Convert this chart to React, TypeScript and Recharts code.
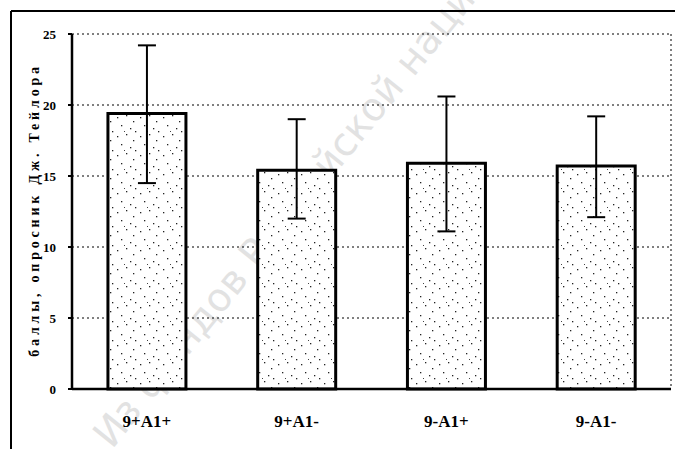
import React from 'react';
import { BarChart, Bar, XAxis, YAxis, CartesianGrid, ErrorBar } from 'recharts';

const categories = ['9+A1+', '9+A1-', '9-A1+', '9-A1-'];
const means = [19.4, 15.4, 15.9, 15.7];
const errLow = [4.9, 3.4, 4.8, 3.6];
const errHigh = [4.8, 3.6, 4.7, 3.5];
const yTicks = [0, 5, 10, 15, 20, 25];
const boundaryTicks = [1, 2, 3, 4];
const yLabel = 'баллы, опросник Дж. Тейлора';
const watermark = 'Из фондов Российской национ';

const data = categories.map((c, i) => ({
  name: c,
  value: means[i],
  err: [errLow[i], errHigh[i]],
}));

const serif = '"Liberation Serif", "DejaVu Serif", serif';

export default function App() {
  return (
    <div style={{ position: 'absolute', left: 0, top: 0, width: 675, height: 449, background: '#fff', overflow: 'hidden' }}>
      <svg width={675} height={449} style={{ position: 'absolute', left: 0, top: 0 }}>
        <text
          x={112}
          y={450}
          transform="rotate(-51 112 450)"
          fontFamily='"DejaVu Sans", sans-serif'
          fontSize={39}
          fill="#e2e2e2"
        >
          {watermark}
        </text>
      </svg>
      <div style={{ position: 'absolute', left: 0, top: 0 }}>
        <BarChart
          width={675}
          height={449}
          data={data}
          margin={{ top: 34, right: 4, left: 0, bottom: 0 }}
          barCategoryGap="24%"
        >
          <defs>
            <pattern id="dots" width="23" height="19" patternUnits="userSpaceOnUse">
              <rect width="23" height="19" fill="#fff" />
              <rect x="2" y="3" width="1.3" height="1.3" fill="#222" />
              <rect x="11" y="1" width="1.3" height="1.3" fill="#222" />
              <rect x="18" y="7" width="1.3" height="1.3" fill="#222" />
              <rect x="6" y="11" width="1.3" height="1.3" fill="#222" />
              <rect x="15" y="14" width="1.3" height="1.3" fill="#222" />
              <rect x="20" y="17" width="1.3" height="1.3" fill="#222" />
              <rect x="9" y="17" width="1" height="1" fill="#444" />
            </pattern>
          </defs>
          <CartesianGrid
            vertical={true}
            horizontal={true}
            stroke="#000"
            strokeDasharray="2 3"
            verticalPoints={[671]}
          />
          <XAxis
            xAxisId="b"
            type="number"
            domain={[0, 4]}
            ticks={boundaryTicks}
            tickFormatter={() => ''}
            axisLine={false}
            tickLine={{ stroke: '#000', strokeWidth: 2 }}
            tickSize={4}
            height={0}
            allowDataOverflow
          />
          <XAxis
            dataKey="name"
            tickLine={false}
            axisLine={{ stroke: '#000', strokeWidth: 2.5 }}
            height={60}
            tickMargin={20}
            tick={{ fill: '#000', fontFamily: serif, fontWeight: 'bold', fontSize: 17 }}
          />
          <YAxis
            domain={[0, 25]}
            ticks={yTicks}
            width={72}
            tickSize={4}
            tickMargin={12}
            axisLine={{ stroke: '#000', strokeWidth: 2.5 }}
            tickLine={{ stroke: '#000', strokeWidth: 2 }}
            tick={{ fill: '#000', fontFamily: serif, fontWeight: 'bold', fontSize: 13 }}
          />
          <Bar dataKey="value" fill="url(#dots)" stroke="#000" strokeWidth={3} isAnimationActive={false}>
            <ErrorBar dataKey="err" stroke="#000" strokeWidth={2} width={9} />
          </Bar>
        </BarChart>
      </div>
      <svg width={675} height={449} style={{ position: 'absolute', left: 0, top: 0, pointerEvents: 'none' }}>
        <line x1={11} y1={11} x2={675} y2={11} stroke="#000" strokeWidth={2} />
        <line x1={11} y1={11} x2={11} y2={449} stroke="#000" strokeWidth={2} />
        <text
          x={39}
          y={210}
          transform="rotate(-90 39 210)"
          textAnchor="middle"
          fontFamily={serif}
          fontWeight="bold"
          fontSize={14}
          letterSpacing={3.8}
          fill="#000"
        >
          {yLabel}
        </text>
      </svg>
    </div>
  );
}
